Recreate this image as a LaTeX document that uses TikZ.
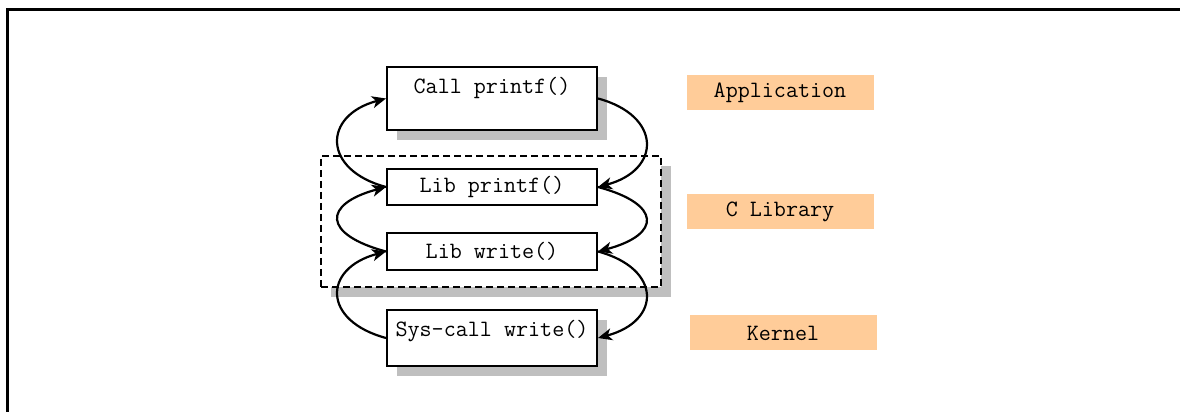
\documentclass[tikz,border=0pt]{standalone}
\usepackage{fontspec}
\usetikzlibrary{arrows.meta,shadows}
\definecolor{lorange}{RGB}{255,204,153}
\definecolor{shgray}{RGB}{191,191,191}
\tikzset{
  callstack/.style={x=0.5pt,y=0.5pt,line width=1pt,font=\fontsize{11.7}{13}\selectfont\ttfamily},
  fnbox/.style={draw,fill=white,minimum width=105pt,inner sep=0pt},
  shbox/.style={fnbox,drop shadow={shadow xshift=5pt,shadow yshift=-5pt,fill=shgray,opacity=1}},
  layer/.style={fill=lorange,minimum width=93.5pt,minimum height=17.5pt,inner sep=0pt},
  hop/.style={-{Stealth[length=7pt,width=6pt,inset=2pt]},line width=1.1pt,distance=33pt},
}

\begin{document}
\begin{tikzpicture}[callstack]
    \clip (0,0) rectangle (1180,412);
    \draw[line width=1.2pt] (7.5,-10) -- (7.5,402.5) -- (1190,402.5);
    % library frame
    \node[shbox,dash pattern=on 3.5pt off 2pt,minimum width=170pt,minimum height=65.5pt] (clib) at (491,190.5) {};
    % call chain
    \node[shbox,text height=13.5pt,text depth=18pt] (call) at (492,313.5) {Call printf()};
    \node[fnbox,minimum height=18pt] (libp) at (492,225) {Lib printf()};
    \node[fnbox,minimum height=18.5pt] (libw) at (492,160.5) {Lib write()};
    \node[shbox,text height=13.5pt,text depth=14.5pt] (sys) at (492,74) {Sys-call write()};
    % layers
    \node[layer] (app) at (780,319) {Application};
    \node[layer] (clibl) at (780,200) {C Library};
    \node[layer] (kern) at (783,79) {Kernel};
    \foreach \a/\b in {call/libp,libp/libw,libw/sys} {
      \draw[hop] (\a.east) to[out=-15,in=15] (\b.east);
      \draw[hop] (\b.west) to[out=165,in=195] (\a.west);
    }
\end{tikzpicture}
\end{document}
